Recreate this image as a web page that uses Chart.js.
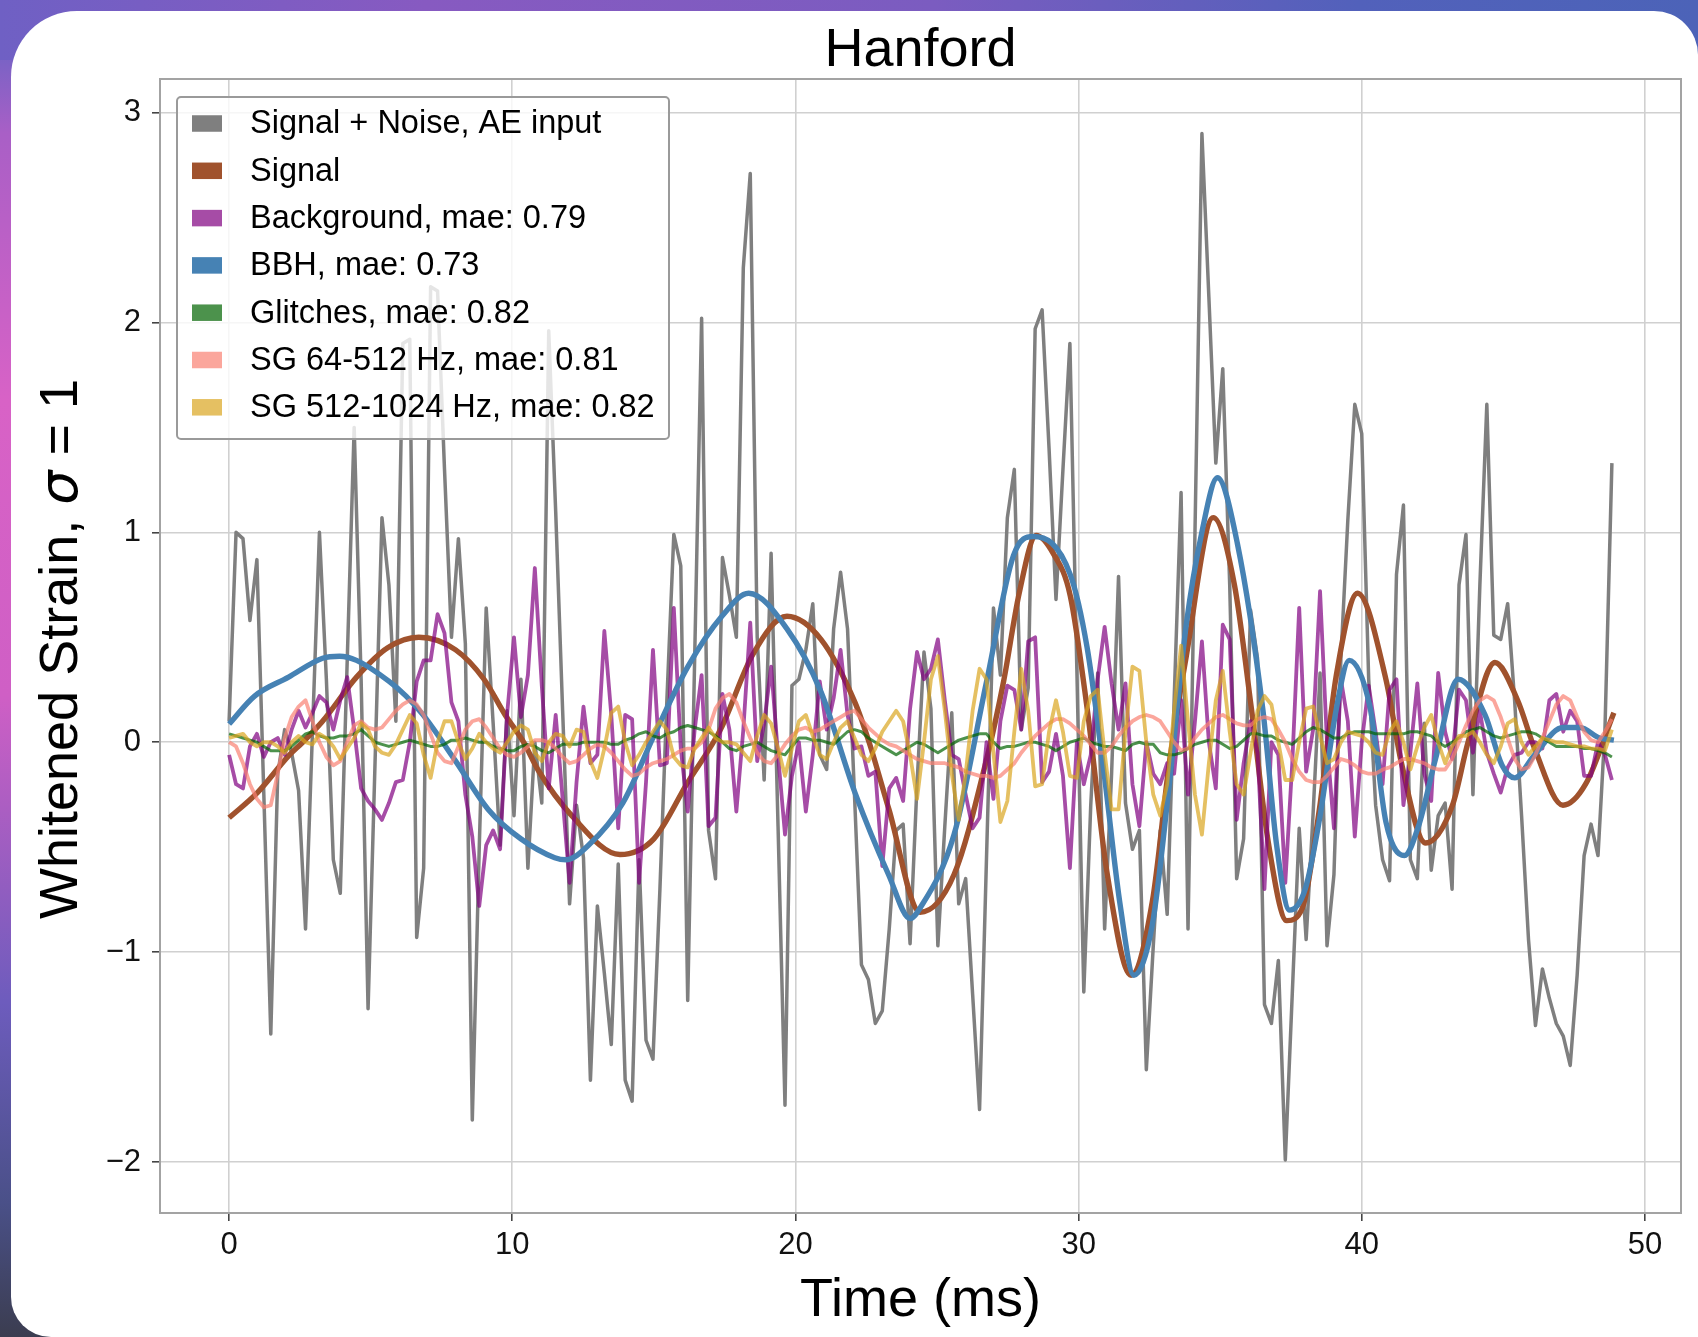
<!DOCTYPE html>
<html>
<head>
<meta charset="utf-8">
<title>Hanford</title>
<script src="https://cdn.jsdelivr.net/npm/chart.js@4.4.1/dist/chart.umd.min.js"></script>
<style>
  html, body { margin: 0; padding: 0; }
  body {
    width: 1698px; height: 1337px; position: relative; overflow: hidden;
    background: linear-gradient(180deg, #5665c4 0%, #a95fc6 10%, #d862c6 30%, #cf5fc5 52%, #6d5cbd 75%, #4a5088 90%, #3b3d50 100%);
  }
  .top-band {
    position: absolute; left: 0; top: 0; width: 100%; height: 60px;
    background: linear-gradient(90deg, #6f60c4 0%, #875ac1 25%, #7b5cc0 55%, #5261bb 80%, #4c63b8 100%);
  }
  .card {
    position: absolute; left: 11px; top: 11px; right: 0; bottom: 0;
    background: #ffffff; border-radius: 66px 44px 0 40px;
  }
  canvas { position: absolute; left: 0; top: 0; }
</style>
</head>
<body>
<div class="top-band"></div>
<div class="card"></div>
<canvas id="strain" width="1698" height="1337"></canvas>
<script>
// Time axis: 200 whitened samples spanning ~48.8 ms
const SAMPLE_COUNT = 200;
const SPAN_MS = 48.83;
const timeMs = Array.from({ length: SAMPLE_COUNT }, (_, i) => i * SPAN_MS / (SAMPLE_COUNT - 1));

const xTicks = [0, 10, 20, 30, 40, 50];
const yTicks = [-2, -1, 0, 1, 2, 3];

// Signal + noise fed to the autoencoders
const aeInput = [
  0.10, 1.00, 0.97, 0.58, 0.87, -0.25, -1.39, -0.15, 0.06, -0.05,
  -0.23, -0.89, 0.05, 1.00, 0.30, -0.56, -0.72, 0.39, 1.50, 0.30,
  -1.27, -0.10, 1.07, 0.75, 0.10, 1.90, 1.92, -0.93, -0.60, 2.17,
  2.15, 1.30, 0.50, 0.97, 0.47, -1.80, -0.50, 0.64, 0.09, -0.49,
  0.15, -0.35, 0.30, -0.60, 0.00, -0.29, 1.96, 1.10, 0.15, -0.77,
  -0.30, -0.55, -1.61, -0.78, -1.10, -1.44, -0.58, -1.61, -1.71, -0.56,
  -1.42, -1.51, -0.70, 0.20, 0.99, 0.84, -1.23, 0.40, 2.02, -0.42,
  -0.65, 0.88, 0.70, 0.50, 2.26, 2.71, 0.50, -0.18, 0.90, -0.40,
  -1.73, 0.27, 0.30, 0.44, 0.66, -0.06, -0.13, 0.54, 0.81, 0.54,
  -0.25, -1.06, -1.13, -1.34, -1.28, -0.89, -0.42, -0.39, -0.96, -0.20,
  0.43, 0.16, -0.97, -0.40, 0.14, -0.77, -0.65, -1.20, -1.75, -0.55,
  0.64, 0.32, 1.07, 1.30, 0.06, 0.26, 1.97, 2.06, 1.40, 0.68,
  1.30, 1.90, 0.35, -1.19, -0.30, 0.33, -0.89, -0.15, 0.79, -0.29,
  -0.51, -0.42, -1.56, -0.97, -0.42, -0.82, 0.20, 1.19, -0.89, 1.00,
  2.90, 2.12, 1.33, 1.78, 0.75, -0.65, -0.46, 0.63, 0.40, -1.25,
  -1.34, -1.04, -1.99, -1.20, -0.41, -0.94, -0.34, 0.33, -0.97, -0.63,
  0.40, 1.06, 1.61, 1.47, 0.30, -0.30, -0.56, -0.66, 0.80, 1.13,
  -0.56, -0.65, 0.09, -0.61, -0.35, -0.29, -0.70, 0.75, 0.99, -0.25,
  0.75, 1.61, 0.51, 0.49, 0.66, 0.20, -0.35, -0.94, -1.35, -1.08,
  -1.22, -1.34, -1.40, -1.54, -1.11, -0.54, -0.39, -0.54, 0.06, 1.33
];

// Injected signal, read at its turning points and crossings
const signalTimes = [
  0, 1.0, 2.1, 2.6, 3.3, 4.5, 5.6, 6.7, 8.0, 9.0,
  9.75, 10.4, 10.9, 12.1, 13.8, 15.0, 16.2, 17.35, 18.5, 19.7,
  20.9, 22.1, 22.6, 23.3, 24.4, 25.6, 26.75, 27.35, 27.9, 28.5,
  29.1, 29.7, 30.3, 31.0, 31.85, 32.6, 33.2, 33.8, 34.75, 35.5,
  36.1, 36.7, 37.35, 37.9, 38.5, 39.1, 39.85, 40.85, 41.4, 42.25,
  43.2, 43.75, 44.7, 45.5, 46.1, 47.1, 47.9, 48.9
];
const signalValues = [
  -0.36, -0.24, -0.065, 0.0, 0.10, 0.31, 0.45, 0.50, 0.44, 0.30,
  0.13, 0.0, -0.13, -0.35, -0.535, -0.46, -0.19, 0.06, 0.42, 0.60,
  0.49, 0.19, 0.0, -0.32, -0.81, -0.63, -0.08, 0.29, 0.71, 0.985,
  0.90, 0.70, 0.16, -0.62, -1.11, -0.76, -0.10, 0.41, 1.07, 0.75,
  0.16, -0.48, -0.85, -0.79, -0.32, 0.32, 0.71, 0.30, -0.10, -0.48,
  -0.30, 0.0, 0.38, 0.20, -0.03, -0.30, -0.20, 0.14
];

// Background autoencoder reconstruction
const background = [
  -0.06, -0.20, -0.22, -0.02, 0.04, -0.07, 0.00, 0.02, -0.06, 0.06,
  0.15, 0.07, 0.14, 0.22, 0.19, 0.06, 0.20, 0.31, 0.06, -0.22,
  -0.28, -0.32, -0.37, -0.29, -0.19, -0.18, 0.00, 0.29, 0.39, 0.39,
  0.61, 0.52, 0.19, 0.10, -0.25, -0.45, -0.78, -0.49, -0.42, -0.51,
  0.13, 0.50, 0.12, 0.32, 0.83, 0.27, -0.22, 0.13, -0.27, -0.67,
  -0.19, 0.17, -0.10, -0.06, 0.53, 0.13, -0.41, 0.13, 0.11, -0.67,
  -0.19, 0.44, -0.11, -0.10, 0.64, -0.03, -0.33, 0.06, 0.32, -0.40,
  -0.36, 0.23, 0.06, -0.33, 0.06, 0.57, -0.09, 0.09, 0.36, -0.06,
  -0.44, -0.16, 0.00, -0.33, -0.06, 0.29, 0.06, 0.21, 0.44, 0.13,
  -0.03, -0.02, -0.16, -0.14, -0.59, -0.22, -0.17, -0.28, 0.16, 0.43,
  0.30, 0.35, 0.49, 0.20, -0.06, -0.08, -0.25, -0.41, -0.36, 0.00,
  -0.27, 0.10, 0.27, 0.25, 0.06, 0.48, 0.50, -0.19, -0.14, 0.04,
  -0.16, -0.60, 0.00, -0.20, -0.06, 0.30, 0.55, 0.28, 0.06, 0.28,
  -0.20, -0.40, 0.00, -0.15, -0.20, -0.10, -0.15, 0.20, -0.25, 0.10,
  0.48, 0.00, -0.22, 0.56, 0.49, -0.37, -0.10, 0.10, -0.05, -0.70,
  0.00, -0.06, -0.67, -0.10, 0.64, -0.14, 0.06, 0.72, 0.00, -0.41,
  0.30, 0.10, -0.45, 0.00, 0.27, 0.05, -0.20, 0.25, 0.30, -0.30,
  -0.05, 0.28, -0.15, -0.28, 0.33, 0.05, -0.08, 0.25, 0.20, -0.05,
  0.15, -0.05, -0.15, -0.24, -0.12, -0.06, -0.05, 0.00, 0.00, -0.03,
  0.20, 0.23, 0.05, 0.15, 0.10, -0.16, -0.16, 0.00, -0.06, -0.18
];

// BBH autoencoder reconstruction (smooth, read at turning points)
const bbhTimes = [
  0, 0.9, 2.1, 3.3, 3.9, 4.5, 5.65, 6.25, 6.85, 8.0,
  9.15, 10.3, 11.5, 11.9, 12.7, 13.9, 15.0, 16.2, 17.4, 18.35,
  19.7, 20.9, 22.1, 23.3, 24.05, 24.4, 25.6, 26.75, 27.7, 28.4,
  29.7, 30.3, 30.9, 31.47, 31.95, 32.6, 33.2, 33.8, 34.35, 34.9,
  35.6, 36.5, 37.0, 37.45, 38.0, 38.5, 39.1, 39.55, 40.3, 40.85,
  41.5, 42.0, 42.6, 43.4, 44.35, 44.95, 45.4, 46.1, 47.1, 47.7,
  48.4, 48.9
];
const bbhValues = [
  0.087, 0.22, 0.31, 0.40, 0.41, 0.39, 0.29, 0.22, 0.13, -0.09,
  -0.32, -0.46, -0.55, -0.56, -0.49, -0.29, 0.03, 0.36, 0.60, 0.71,
  0.54, 0.24, -0.24, -0.635, -0.84, -0.79, -0.44, 0.29, 0.89, 0.98,
  0.80, 0.45, -0.15, -0.78, -1.11, -0.87, -0.20, 0.56, 1.00, 1.26,
  0.95, 0.16, -0.50, -0.80, -0.70, -0.37, 0.16, 0.39, 0.16, -0.38,
  -0.54, -0.40, -0.08, 0.30, 0.13, -0.11, -0.17, -0.06, 0.07, 0.07,
  0.02, 0.01
];

// Glitches autoencoder reconstruction
const glitches = [
  0.04, 0.03, 0.02, 0.01, 0.00, -0.02, -0.04, -0.04, -0.04, -0.02,
  0.01, 0.04, 0.05, 0.03, 0.02, 0.02, 0.03, 0.03, 0.04, 0.06,
  0.03, 0.00, -0.01, -0.02, -0.01, 0.00, 0.01, 0.00, -0.01, -0.02,
  -0.02, -0.01, 0.01, 0.01, 0.02, 0.01, 0.00, 0.00, -0.02, -0.03,
  -0.04, -0.04, -0.02, -0.01, -0.02, -0.04, -0.05, -0.03, -0.01, -0.01,
  -0.01, 0.00, 0.00, 0.00, 0.00, -0.01, -0.01, 0.01, 0.02, 0.04,
  0.05, 0.03, 0.02, 0.04, 0.05, 0.07, 0.08, 0.07, 0.06, 0.05,
  0.03, 0.00, -0.03, -0.04, -0.02, -0.01, 0.00, -0.02, -0.04, -0.05,
  -0.06, -0.02, 0.02, 0.02, 0.01, 0.01, 0.00, -0.01, 0.02, 0.05,
  0.06, 0.05, 0.02, 0.00, -0.02, -0.04, -0.06, -0.04, -0.02, 0.00,
  -0.01, -0.03, -0.05, -0.03, -0.01, 0.01, 0.02, 0.03, 0.04, 0.04,
  0.00, -0.03, -0.02, -0.02, -0.01, 0.00, 0.00, -0.01, -0.02, -0.04,
  -0.02, 0.00, 0.01, 0.02, 0.00, -0.01, -0.02, -0.02, -0.03, -0.04,
  -0.01, 0.00, -0.01, -0.01, -0.05, -0.06, -0.06, -0.05, -0.03, -0.01,
  0.00, 0.01, 0.01, -0.01, -0.03, -0.02, 0.01, 0.04, 0.04, 0.03,
  0.03, 0.01, 0.00, -0.01, 0.02, 0.05, 0.07, 0.06, 0.04, 0.02,
  0.02, 0.04, 0.05, 0.05, 0.05, 0.04, 0.04, 0.04, 0.04, 0.04,
  0.05, 0.05, 0.04, 0.03, 0.00, -0.02, 0.00, 0.02, 0.05, 0.06,
  0.07, 0.05, 0.03, 0.02, 0.03, 0.04, 0.05, 0.05, 0.04, 0.02,
  0.00, -0.02, -0.02, -0.02, -0.02, -0.03, -0.03, -0.04, -0.05, -0.07
];

// Sine-Gaussian 64-512 Hz autoencoder reconstruction
const sgLow = [
  0.00, -0.02, -0.10, -0.20, -0.27, -0.31, -0.30, -0.15, 0.02, 0.12,
  0.17, 0.20, 0.10, 0.00, -0.07, -0.11, -0.09, 0.00, 0.08, 0.10,
  0.07, 0.06, 0.07, 0.11, 0.15, 0.18, 0.20, 0.18, 0.13, 0.04,
  -0.05, -0.09, -0.10, -0.02, 0.06, 0.10, 0.11, 0.07, 0.02, -0.03,
  -0.06, -0.07, -0.05, -0.02, 0.01, 0.01, 0.00, -0.03, -0.07, -0.10,
  -0.09, -0.06, -0.03, -0.01, -0.02, -0.05, -0.09, -0.13, -0.16, -0.15,
  -0.12, -0.10, -0.09, -0.08, -0.06, -0.04, -0.03, -0.03, 0.00, 0.06,
  0.16, 0.21, 0.23, 0.19, 0.10, 0.02, -0.05, -0.09, -0.10, -0.06,
  -0.01, 0.03, 0.06, 0.07, 0.05, 0.06, 0.08, 0.10, 0.12, 0.14,
  0.15, 0.11, 0.07, 0.04, 0.01, -0.01, -0.02, -0.04, -0.06, -0.08,
  -0.09, -0.10, -0.10, -0.10, -0.11, -0.12, -0.14, -0.15, -0.16, -0.16,
  -0.17, -0.16, -0.13, -0.10, -0.05, -0.01, 0.03, 0.06, 0.09, 0.11,
  0.11, 0.09, 0.06, 0.03, -0.01, -0.05, -0.05, -0.02, 0.03, 0.07,
  0.10, 0.12, 0.13, 0.12, 0.10, 0.05, 0.00, -0.04, -0.03, 0.02,
  0.06, 0.09, 0.12, 0.13, 0.11, 0.09, 0.08, 0.08, 0.11, 0.12,
  0.11, 0.06, 0.00, -0.08, -0.14, -0.18, -0.19, -0.19, -0.16, -0.12,
  -0.08, -0.09, -0.11, -0.14, -0.15, -0.15, -0.13, -0.12, -0.10, -0.08,
  -0.08, -0.09, -0.10, -0.12, -0.13, -0.13, -0.08, 0.00, 0.08, 0.15,
  0.20, 0.22, 0.20, 0.12, 0.02, -0.08, -0.13, -0.12, -0.06, 0.02,
  0.10, 0.18, 0.22, 0.20, 0.12, 0.05, 0.01, 0.00, 0.05, 0.11
];

// Sine-Gaussian 512-1024 Hz autoencoder reconstruction
const sgHigh = [
  0.02, 0.03, 0.04, 0.00, -0.02, 0.00, 0.00, -0.02, -0.05, 0.00,
  0.03, 0.00, -0.01, 0.04, 0.02, -0.02, -0.08, -0.03, 0.02, 0.09,
  0.06, -0.02, -0.05, -0.06, -0.01, 0.06, 0.13, 0.09, -0.06, -0.17,
  0.00, 0.10, 0.10, 0.00, -0.08, -0.03, 0.04, 0.00, -0.03, -0.05,
  0.00, 0.05, 0.08, 0.06, -0.05, -0.09, 0.00, 0.04, 0.03, -0.02,
  0.06, 0.05, -0.09, -0.17, -0.03, 0.14, 0.17, 0.00, -0.11, -0.06,
  0.00, 0.05, 0.10, 0.06, -0.07, -0.11, -0.12, -0.03, 0.02, 0.07,
  0.02, 0.00, 0.00, -0.01, -0.05, -0.09, 0.03, 0.13, 0.09, -0.03,
  -0.16, -0.03, 0.10, 0.13, 0.03, -0.06, -0.08, 0.00, 0.07, 0.10,
  0.02, -0.06, -0.09, -0.03, 0.05, 0.10, 0.15, 0.10, -0.06, -0.27,
  0.00, 0.30, 0.41, 0.15, -0.15, -0.37, -0.15, 0.15, 0.35, 0.30,
  -0.05, -0.38, -0.28, 0.05, 0.35, 0.15, -0.21, -0.20, 0.05, 0.20,
  0.05, -0.16, -0.17, 0.10, 0.22, 0.25, -0.05, -0.32, -0.32, 0.05,
  0.36, 0.34, 0.00, -0.25, -0.35, -0.20, 0.15, 0.46, 0.10, -0.25,
  -0.44, -0.10, 0.20, 0.34, 0.05, -0.20, -0.25, -0.05, 0.15, 0.22,
  0.18, 0.00, -0.18, -0.18, 0.00, 0.16, 0.17, 0.03, -0.10, -0.08,
  0.00, 0.05, 0.04, 0.03, 0.00, -0.05, -0.06, 0.05, 0.10, 0.00,
  -0.13, -0.02, 0.07, 0.13, 0.00, -0.10, -0.02, 0.03, 0.03, 0.05,
  0.00, -0.06, -0.10, -0.02, 0.09, 0.11, 0.00, -0.06, -0.02, 0.02,
  0.01, 0.00, 0.00, -0.01, -0.02, -0.02, -0.03, -0.03, -0.04, 0.06
];

const seriesLabels = [
  'Signal + Noise, AE input',
  'Signal',
  'Background, mae: 0.79',
  'BBH, mae: 0.73',
  'Glitches, mae: 0.82',
  'SG 64-512 Hz, mae: 0.81',
  'SG 512-1024 Hz, mae: 0.82'
];
const seriesColors = [
  '#7f7f7f',
  '#a0522d',
  'rgba(128, 0, 128, 0.7)',
  '#4682b4',
  'rgba(0, 100, 0, 0.7)',
  'rgba(250, 128, 114, 0.7)',
  'rgba(218, 165, 32, 0.7)'
];
const seriesWidths = [3.5, 5.4, 3.8, 5.4, 3, 3.8, 3.8];

const FONT = '"Liberation Sans", Arial, Helvetica, sans-serif';

function sampled(values) {
  return values.map((y, i) => ({ x: timeMs[i], y }));
}
function knotted(times, values) {
  return times.map((x, i) => ({ x, y: values[i] }));
}

const seriesData = [
  sampled(aeInput),
  knotted(signalTimes, signalValues),
  sampled(background),
  knotted(bbhTimes, bbhValues),
  sampled(glitches),
  sampled(sgLow),
  sampled(sgHigh)
];
const smoothSeries = [false, true, false, true, false, false, false];

// first series sits at the bottom, last one on top
const datasets = seriesData.map((data, k) => ({
  label: seriesLabels[k],
  data,
  borderColor: seriesColors[k],
  borderWidth: seriesWidths[k],
  borderJoinStyle: 'round',
  pointRadius: 0,
  fill: false,
  tension: 0,
  cubicInterpolationMode: smoothSeries[k] ? 'monotone' : 'default',
  order: seriesData.length - k
}));

// axes frame drawn under the curves
const framePlugin = {
  id: 'frame',
  beforeDatasetsDraw(chart) {
    const { ctx, chartArea: a } = chart;
    ctx.save();
    ctx.strokeStyle = '#a3a3a3';
    ctx.lineWidth = 2;
    ctx.strokeRect(a.left, a.top, a.right - a.left, a.bottom - a.top);
    ctx.restore();
  }
};

// title and axis labels
const labelsPlugin = {
  id: 'labels',
  afterDraw(chart) {
    const { ctx, chartArea: a } = chart;
    const cx = (a.left + a.right) / 2;
    ctx.save();
    ctx.fillStyle = '#000';
    ctx.textBaseline = 'alphabetic';
    ctx.textAlign = 'center';
    ctx.font = `54px ${FONT}`;
    ctx.fillText('Hanford', cx, 66);
    ctx.fillText('Time (ms)', cx, 1316);

    // y label with an italic sigma
    const parts = [
      { text: 'Whitened Strain, ', font: `54px ${FONT}` },
      { text: 'σ', font: `italic 54px "DejaVu Sans", ${FONT}` },
      { text: ' = 1', font: `54px ${FONT}` }
    ];
    let total = 0;
    parts.forEach(p => { ctx.font = p.font; p.w = ctx.measureText(p.text).width; total += p.w; });
    ctx.translate(77, (a.top + a.bottom) / 2 + 3);
    ctx.rotate(-Math.PI / 2);
    ctx.textAlign = 'left';
    let x = -total / 2;
    parts.forEach(p => { ctx.font = p.font; ctx.fillText(p.text, x, 0); x += p.w; });
    ctx.restore();
  }
};

// legend box in the upper left of the axes
const legendPlugin = {
  id: 'boxLegend',
  afterDatasetsDraw(chart) {
    const { ctx } = chart;
    const box = { left: 177, top: 97, right: 669, bottom: 439 };
    const firstRow = 123.5, rowStep = 47.3;
    ctx.save();
    ctx.beginPath();
    ctx.roundRect(box.left, box.top, box.right - box.left, box.bottom - box.top, 4);
    ctx.fillStyle = 'rgba(255, 255, 255, 0.8)';
    ctx.fill();
    ctx.strokeStyle = '#9a9a9a';
    ctx.lineWidth = 2;
    ctx.stroke();
    ctx.font = `32.5px ${FONT}`;
    ctx.textBaseline = 'middle';
    ctx.textAlign = 'left';
    seriesLabels.forEach((label, k) => {
      const y = firstRow + k * rowStep;
      ctx.fillStyle = seriesColors[k];
      ctx.fillRect(192, y - 8.25, 30, 16.5);
      ctx.fillStyle = '#000';
      ctx.fillText(label, 250, y + 1);
    });
    ctx.restore();
  }
};

const minus = v => (v < 0 ? '\u2212' + Math.abs(v) : String(v));

new Chart(document.getElementById('strain').getContext('2d'), {
  type: 'line',
  data: { datasets },
  options: {
    responsive: false,
    animation: false,
    devicePixelRatio: 1,
    layout: { padding: { left: 0, top: 79, right: 17, bottom: 0 } },
    plugins: {
      legend: { display: false },
      tooltip: { enabled: false },
      title: { display: false }
    },
    scales: {
      x: {
        type: 'linear',
        min: -2.44,
        max: 51.27,
        afterFit(scale) { scale.height = 124; },
        afterBuildTicks(scale) { scale.ticks = xTicks.map(value => ({ value })); },
        border: { display: false },
        grid: { color: '#d0d0d0', lineWidth: 1.6, tickLength: 8, tickColor: '#444', tickWidth: 1.6 },
        ticks: { color: '#111', font: { family: FONT, size: 31 }, padding: 6, maxRotation: 0, callback: minus }
      },
      y: {
        type: 'linear',
        min: -2.243,
        max: 3.16,
        afterFit(scale) { scale.width = 160; },
        afterBuildTicks(scale) { scale.ticks = yTicks.map(value => ({ value })); },
        border: { display: false },
        grid: { color: '#d0d0d0', lineWidth: 1.6, tickLength: 8, tickColor: '#444', tickWidth: 1.6 },
        ticks: { color: '#111', font: { family: FONT, size: 31 }, padding: 11, callback: minus }
      }
    }
  },
  plugins: [framePlugin, legendPlugin, labelsPlugin]
});
</script>
</body>
</html>
